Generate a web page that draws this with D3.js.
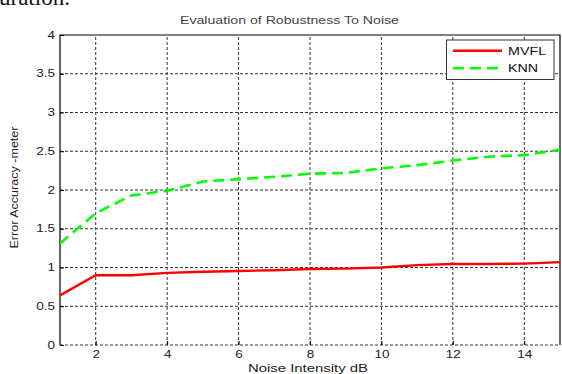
<!DOCTYPE html>
<html>
<head>
<meta charset="utf-8">
<script src="https://cdn.jsdelivr.net/npm/d3@7"></script>
<style>
  body { margin: 0; background: #fff; }
  svg { display: block; }
  text { font-family: "Liberation Sans", Arial, sans-serif; }
</style>
</head>
<body>
<div id="graphArea"></div>
<script>
// values
var noise = [1, 2, 3, 4, 5, 6, 7, 8, 9, 10, 11, 12, 13, 14, 15];
var mvfl  = [0.64, 0.90, 0.90, 0.93, 0.945, 0.955, 0.965, 0.98, 0.985, 1.00, 1.03, 1.045, 1.045, 1.05, 1.07];
var knn   = [1.31, 1.70, 1.93, 1.99, 2.11, 2.14, 2.17, 2.21, 2.22, 2.28, 2.32, 2.38, 2.43, 2.45, 2.52];
var xTicks = [2, 4, 6, 8, 10, 12, 14];
var yTicks = [0, 0.5, 1, 1.5, 2, 2.5, 3, 3.5, 4];
var seriesNames = ["MVFL", "KNN"];

var W = 562, H = 374;
var margin = { top: 35, left: 60, bottom: 29, right: 2 };

var svg = d3.select("#graphArea").append("svg")
  .attr("width", W)
  .attr("height", H);

// the figure is scanned a bit wide, so text is stretched sideways
function stretch(sel, k) {
  sel.each(function() {
    var len = this.getComputedTextLength();
    d3.select(this)
      .attr("textLength", len * k)
      .attr("lengthAdjust", "spacingAndGlyphs");
  });
}

// bit of the paper's caption left over above the chart
svg.append("text")
  .attr("x", -1)
  .attr("y", 5)
  .attr("style", "font-family:'Liberation Serif',serif;font-size:23px")
  .attr("fill", "#111")
  .text("uration.");

var x = d3.scaleLinear().domain([1, 15]).range([margin.left, W - margin.right]);
var y = d3.scaleLinear().domain([0, 4]).range([H - margin.bottom, margin.top]);

// grid
svg.append("g").selectAll("line")
  .data(xTicks)
  .enter().append("line")
  .attr("x1", d => x(d)).attr("x2", d => x(d))
  .attr("y1", y(0)).attr("y2", y(4))
  .attr("stroke", "#333")
  .attr("stroke-width", 1)
  .attr("stroke-dasharray", "3,2");

svg.append("g").selectAll("line")
  .data(yTicks.filter(d => d < 4))
  .enter().append("line")
  .attr("x1", x(1)).attr("x2", x(15))
  .attr("y1", d => y(d)).attr("y2", d => y(d))
  .attr("stroke", "#333")
  .attr("stroke-width", 1)
  .attr("stroke-dasharray", "3,2");

// box: left, top, right solid
svg.append("path")
  .attr("d", "M" + x(1) + "," + y(0) + "V" + y(4) + "H" + x(15) + "V" + y(0))
  .attr("fill", "none")
  .attr("stroke", "#000")
  .attr("stroke-width", 1.2);

// axes
var yAxis = svg.append("g")
  .attr("transform", "translate(" + x(1) + ",0)")
  .call(d3.axisLeft(y).tickValues(yTicks).tickSize(-4).tickPadding(5).tickFormat(d3.format("")));
yAxis.select(".domain").remove();

var xAxis = svg.append("g")
  .attr("transform", "translate(0," + y(0) + ")")
  .call(d3.axisBottom(x).tickValues(xTicks).tickSize(-4).tickPadding(6));
xAxis.select(".domain").remove();

svg.selectAll(".tick line").attr("stroke", "#000");
svg.selectAll(".tick text")
  .attr("fill", "#222")
  .attr("style", "font-family:'Liberation Sans',Arial,sans-serif;font-size:10px");
stretch(svg.selectAll(".tick text"), 1.35);

// lines
var line = d3.line()
  .x((d, i) => x(noise[i]))
  .y(d => y(d));

svg.append("path")
  .datum(knn)
  .attr("d", line)
  .attr("fill", "none")
  .attr("stroke", "#00ff00")
  .attr("stroke-width", 2.6)
  .attr("stroke-dasharray", "11,6");

svg.append("path")
  .datum(mvfl)
  .attr("d", line)
  .attr("fill", "none")
  .attr("stroke", "#ff0000")
  .attr("stroke-width", 2.4);

// titles
var title = svg.append("text")
  .attr("x", 289.5)
  .attr("y", 24)
  .attr("text-anchor", "middle")
  .attr("fill", "#444")
  .attr("style", "font-size:10px")
  .text("Evaluation of Robustness To Noise");
title.attr("textLength", 219).attr("lengthAdjust", "spacingAndGlyphs");

svg.append("text")
  .attr("x", 308)
  .attr("y", 372)
  .attr("text-anchor", "middle")
  .attr("fill", "#222")
  .attr("style", "font-size:10px")
  .attr("textLength", 120)
  .attr("lengthAdjust", "spacingAndGlyphs")
  .text("Noise Intensity dB");

svg.append("text")
  .attr("transform", "translate(18,187.5) rotate(-90)")
  .attr("text-anchor", "middle")
  .attr("fill", "#222")
  .attr("style", "font-size:10.5px")
  .attr("textLength", 122)
  .attr("lengthAdjust", "spacingAndGlyphs")
  .text("Error Accuracy -meter");

// legend
var legend = svg.append("g");
legend.append("rect")
  .attr("x", 446.5).attr("y", 40)
  .attr("width", 107.5).attr("height", 39.5)
  .attr("fill", "#fff")
  .attr("stroke", "#333")
  .attr("stroke-width", 1);

var legendColors = ["#ff0000", "#00ff00"];
var legendDash = [null, "11,6"];
seriesNames.forEach(function(name, i) {
  var ly = 50.7 + i * 17.6;
  legend.append("line")
    .attr("x1", 453).attr("x2", 502)
    .attr("y1", ly).attr("y2", ly)
    .attr("stroke", legendColors[i])
    .attr("stroke-width", 2.4)
    .attr("stroke-dasharray", legendDash[i]);
  var t = legend.append("text")
    .attr("x", 508)
    .attr("y", ly + 4)
    .attr("fill", "#111")
    .attr("style", "font-size:11px")
    .text(name);
  stretch(t, 1.3);
});
</script>
</body>
</html>
